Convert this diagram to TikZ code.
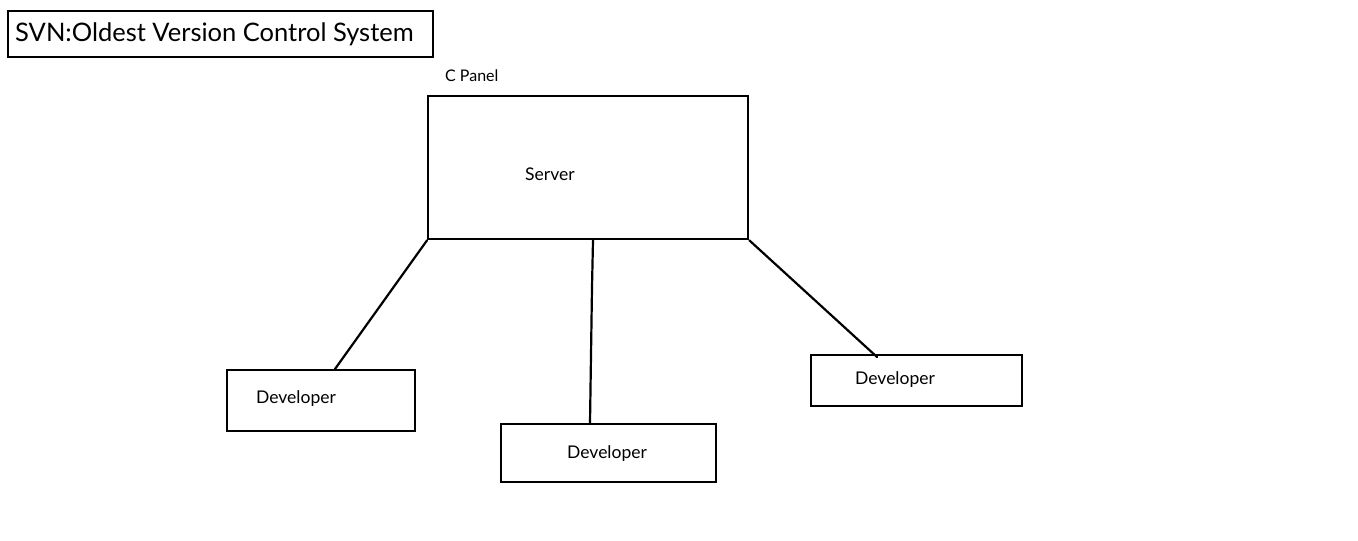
\documentclass[tikz,border=0pt]{standalone}
\usepackage{fontspec}
\setmainfont{Lato}
\usetikzlibrary{calc}
\begin{document}
\begin{tikzpicture}[x=1pt,y=-1pt,
  box/.style={draw, line width=2.4pt, inner sep=0pt, anchor=north west},
  lbl/.style={inner sep=0pt, anchor=west, font=\fontsize{17.5}{20}\selectfont},
  conn/.style={line width=2.2pt, line cap=round}]
\useasboundingbox (0,0) rectangle (1358,541);
% title
\node[box, minimum width=425pt, minimum height=46pt] (titlebox) at (7,10) {};
\node[lbl, font=\fontsize{25.5}{30}\selectfont] (title) at (15,34) {SVN:Oldest Version Control System};
% server
\node[lbl, font=\fontsize{16}{18}\selectfont] (cpanel) at (445,76) {C Panel};
\node[box, minimum width=320pt, minimum height=143pt] (server) at (427,95) {};
\node[lbl] (servertxt) at (525,174) {Server};
% developers
\node[box, minimum width=188pt, minimum height=61pt] (dev1) at (226,369) {};
\node[lbl] (dev1txt) at (256,399) {Developer};
\node[box, minimum width=215pt, minimum height=58pt] (dev2) at (500,423) {};
\node[lbl] (dev2txt) at (567,454) {Developer};
\node[box, minimum width=211pt, minimum height=51pt] (dev3) at (810,354) {};
\node[lbl] (dev3txt) at (855,380) {Developer};
% connectors
\coordinate (c1) at ($(dev1.north west)+(109,0)$);
\coordinate (s2) at ($(server.south west)+(166,0)$);
\coordinate (c2) at ($(dev2.north west)+(90,0)$);
\coordinate (c3) at ($(dev3.north west)+(67,3)$);
\draw[conn] (server.south west) -- (c1);
\draw[conn] (s2) -- ++(-1,47) -- (c2);
\draw[conn] (server.south east) -- (c3);
\end{tikzpicture}
\end{document}
